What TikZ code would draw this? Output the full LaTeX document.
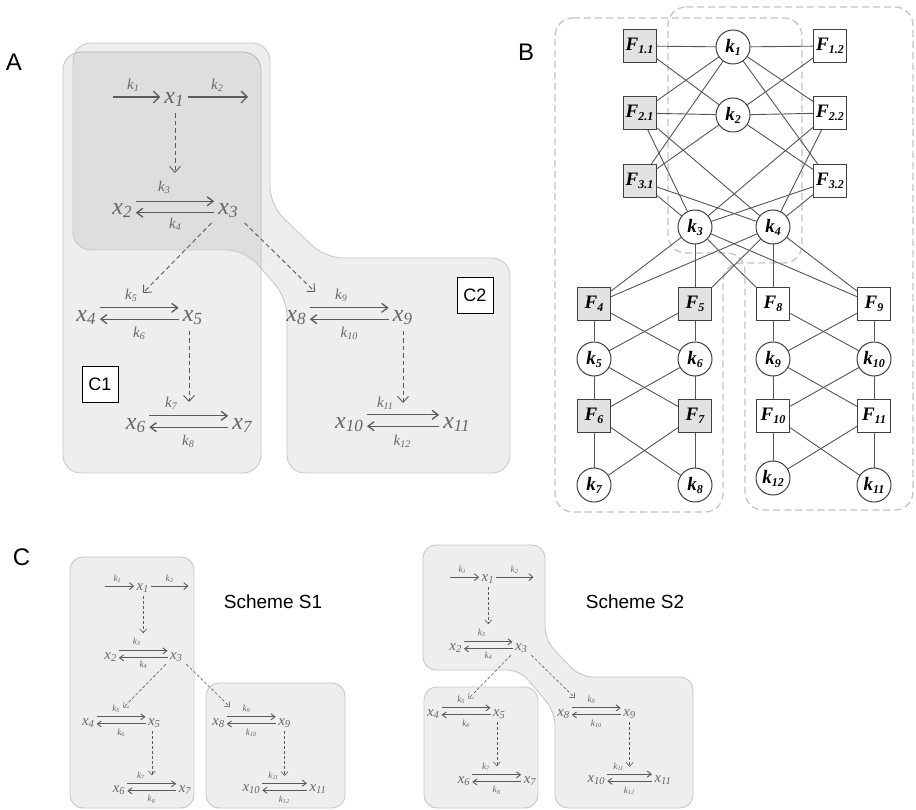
\documentclass[tikz,border=0pt]{standalone}
\usepackage{fontspec}
\setmainfont{Liberation Serif}
\newfontfamily\lsans{Liberation Sans}
\usetikzlibrary{arrows.meta}
\definecolor{tgray}{HTML}{666666}
\definecolor{agray}{HTML}{5A5A5A}
\definecolor{rborder}{HTML}{C8C8C8}
\definecolor{dashc}{HTML}{C4C4C4}
\definecolor{ngray}{HTML}{E2E2E2}
\definecolor{nbord}{HTML}{404040}
\definecolor{egray}{HTML}{555555}

\newcommand\xv[1]{x\raisebox{-3pt}{\fontsize{17}{17}\selectfont #1}}
\newcommand\kv[1]{k\raisebox{-2pt}{\fontsize{10}{10}\selectfont #1}}
\newcommand\Fv[1]{F\raisebox{-3pt}{\fontsize{12}{12}\selectfont #1}}
\newcommand\Kv[1]{k\raisebox{-3pt}{\fontsize{12}{12}\selectfont #1}}

\tikzset{
 xn/.style={anchor=base, inner xsep=4pt, inner ysep=2pt, text height=11.5pt, text depth=3pt, text=tgray, font=\fontsize{24}{24}\selectfont\itshape},
 kn/.style={inner sep=0pt, text=tgray, font=\fontsize{15}{15}\selectfont\itshape},
 rx/.style={draw=agray, line width=1.3pt, -{Straight Barb[length=6pt,width=12pt]}},
 rxd/.style={draw=agray, line width=1.3pt, -{Straight Barb[length=6pt,width=9pt]}},
 dx/.style={draw=agray, line width=0.9pt, dash pattern=on 4.5pt off 3pt, -{Straight Barb[length=6pt,width=11pt]}, shorten <=4pt},
 region/.style={fill=black, fill opacity=0.065, draw=rborder, line width=0.9pt, rounded corners=18pt},
 sregion/.style={region, rounded corners=13pt},
 lab/.style={draw=black, line width=0.9pt, fill=white, minimum size=36pt, inner sep=0pt, font=\lsans\fontsize{18}{18}\selectfont},
 plab/.style={inner sep=0pt, font=\lsans\fontsize{24}{24}\selectfont},
 stitle/.style={inner sep=0pt, font=\lsans\fontsize{19}{19}\selectfont},
 fb/.style={draw=nbord, line width=1pt, fill=white, minimum size=33pt, inner sep=0pt, font=\fontsize{19}{19}\selectfont\bfseries\itshape},
 fbg/.style={fb, fill=ngray},
 kb/.style={circle, draw=nbord, line width=1pt, fill=white, minimum size=34pt, inner sep=0pt, font=\fontsize{19}{19}\selectfont\bfseries\itshape},
 be/.style={draw=egray, line width=0.9pt},
 dbox/.style={draw=dashc, line width=1.3pt, dash pattern=on 7pt off 4pt, rounded corners=18pt},
 small/.style={
   rx/.style={draw=agray, line width=0.9pt, -{Straight Barb[length=4pt,width=7pt]}},
   rxd/.style={draw=agray, line width=0.9pt, -{Straight Barb[length=4pt,width=6pt]}},
   dx/.style={draw=agray, line width=0.6pt, dash pattern=on 3pt off 2pt, -{Straight Barb[length=4pt,width=7pt]}, shorten <=2.5pt}}
}

\newcommand\rxscheme{%
 \node[xn] (x1) at (174,104) {\xv{1}};
 \node[xn] (x2) at (122,215) {\xv{2}};
 \node[xn] (x3) at (228,215) {\xv{3}};
 \node[xn] (x4) at (86,321.5) {\xv{4}};
 \node[xn] (x5) at (192.5,321.5) {\xv{5}};
 \node[xn] (x6) at (135.5,429.5) {\xv{6}};
 \node[xn] (x7) at (242,429.5) {\xv{7}};
 \node[xn] (x8) at (296,321.5) {\xv{8}};
 \node[xn] (x9) at (402.5,321.5) {\xv{9}};
 \node[xn] (x10) at (349,428.5) {\xv{10}};
 \node[xn] (x11) at (456.5,428.5) {\xv{11}};
 \node[kn] (k1) at (133,85) {\kv{1}};
 \node[kn] (k2) at (217,85) {\kv{2}};
 \node[kn] (k3) at (164,187) {\kv{3}};
 \node[kn] (k4) at (175,224) {\kv{4}};
 \node[kn] (k5) at (131,295) {\kv{5}};
 \node[kn] (k6) at (139,333) {\kv{6}};
 \node[kn] (k7) at (171,403) {\kv{7}};
 \node[kn] (k8) at (188,441) {\kv{8}};
 \node[kn] (k9) at (341,295) {\kv{9}};
 \node[kn] (k10) at (349,333) {\kv{10}};
 \node[kn] (k11) at (385,403) {\kv{11}};
 \node[kn] (k12) at (402,441) {\kv{12}};
 \coordinate (k1s) at (113,97);
 \coordinate (k2e) at (248,97);
 \draw[rx] (k1s) -- (k1s -| x1.west);
 \draw[rx] (k2e -| x1.east) -- (k2e);
 \draw[rxd] (x2.north east) -- (x3.north west);
 \draw[rxd] (x3.mid west) -- (x2.mid east);
 \draw[rxd] (x4.north east) -- (x5.north west);
 \draw[rxd] (x5.mid west) -- (x4.mid east);
 \draw[rxd] (x6.north east) -- (x7.north west);
 \draw[rxd] (x7.mid west) -- (x6.mid east);
 \draw[rxd] (x8.north east) -- (x9.north west);
 \draw[rxd] (x9.mid west) -- (x8.mid east);
 \draw[rxd] (x10.north east) -- (x11.north west);
 \draw[rxd] (x11.mid west) -- (x10.mid east);
 \coordinate (d1) at (175,173);
 \coordinate (d2) at (143,293);
 \coordinate (d3) at (315,292);
 \coordinate (d4) at (189,402);
 \coordinate (d5) at (403,403);
 \draw[dx] (x1.south -| d1) -- (d1);
 \draw[dx] (x3.south west) -- (d2);
 \draw[dx] (x3.south east) -- (d3);
 \draw[dx] (x5.south -| d4) -- (d4);
 \draw[dx] (x9.south -| d5) -- (d5);
}

\begin{document}
\begin{tikzpicture}[x=1pt,y=-1pt]
\useasboundingbox[fill=white] (0,0) rectangle (916,810);

% ---------------- Panel A ----------------
\node[plab] (pA) at (14,62) {A};
\draw[region] (63,52) rectangle (261,473);
\draw[region] (73,43) -- (270,43) -- (270,205) -- (325,258) -- (510,258) -- (510,473) -- (287,473) -- (287,298) -- (245,250) -- (73,250) -- cycle;
\begin{scope}[name prefix=a-]
 \rxscheme
\end{scope}
\node[lab] (c1) at (100,384) {C1};
\node[lab] (c2) at (475,295) {C2};

% ---------------- Panel B ----------------
\node[plab] (pB) at (526,52) {B};
\draw[dbox] (555,18) -- (802,18) -- (802,263) -- (723,263) -- (723,512) -- (555,512) -- cycle;
\draw[dbox] (668,7) -- (913,7) -- (913,510) -- (745,510) -- (745,253) -- (668,253) -- cycle;

\node[fbg] (F11) at (639.5,46) {\Fv{1.1}};
\node[kb]  (K1)  at (733,47) {\Kv{1}};
\node[fb]  (F12) at (830,46) {\Fv{1.2}};
\node[fbg] (F21) at (639.5,113) {\Fv{2.1}};
\node[kb]  (K2)  at (733,115) {\Kv{2}};
\node[fb]  (F22) at (830,113) {\Fv{2.2}};
\node[fbg] (F31) at (639.5,181) {\Fv{3.1}};
\node[fb]  (F32) at (830,181) {\Fv{3.2}};
\node[kb]  (K3)  at (695,227) {\Kv{3}};
\node[kb]  (K4)  at (773,227) {\Kv{4}};
\node[fbg] (F4) at (594,304) {\Fv{4}};
\node[fbg] (F5) at (695,304) {\Fv{5}};
\node[fb]  (F8) at (773,304) {\Fv{8}};
\node[fb]  (F9) at (874,304) {\Fv{9}};
\node[kb]  (K5) at (594,359) {\Kv{5}};
\node[kb]  (K6) at (695,359) {\Kv{6}};
\node[kb]  (K9) at (773,359) {\Kv{9}};
\node[kb]  (K10) at (874,359) {\Kv{10}};
\node[fbg] (F6) at (594,416) {\Fv{6}};
\node[fbg] (F7) at (695,416) {\Fv{7}};
\node[fb]  (F10) at (773,416) {\Fv{10}};
\node[fb]  (F11b) at (874,416) {\Fv{11}};
\node[kb]  (K7) at (594,485) {\Kv{7}};
\node[kb]  (K8) at (695,485) {\Kv{8}};
\node[kb]  (K12) at (773,478) {\Kv{12}};
\node[kb]  (K11) at (874,485) {\Kv{11}};

\foreach \a/\b in {F11/K1, K1/F12, F11/K2, F12/K2, F21/K1, F22/K1, F31/K1, F32/K1,
  F21/K2, F22/K2, F31/K2, F32/K2, F21/K3, F21/K4, F22/K3, F22/K4, F31/K3, F31/K4, F32/K3, F32/K4,
  K3/F4, K3/F5, K3/F8, K3/F9, K4/F4, K4/F5, K4/F8, K4/F9,
  F4/K5, F4/K6, F5/K5, F5/K6, K5/F6, K5/F7, K6/F6, K6/F7, F6/K7, F6/K8, F7/K7, F7/K8,
  F8/K9, F8/K10, F9/K9, F9/K10, K9/F10, K9/F11b, K10/F10, K10/F11b, F10/K12, F10/K11, F11b/K12, F11b/K11}
  \draw[be] (\a) -- (\b);

% ---------------- Panel C ----------------
\node[plab] (pC) at (21.5,557) {C};
\draw[sregion] (70,557) rectangle (194,808);
\draw[sregion] (206,683) rectangle (345,808);
\begin{scope}[shift={(34.7,526)}, scale=0.62, transform shape, name prefix=s1-, small]
 \rxscheme
\end{scope}
\node[stitle] (t1) at (273,602) {Scheme S1};

\draw[sregion] (423,545) -- (545,545) -- (545,640) -- (580,677) -- (693,677) -- (693,808) -- (555,808) -- (555,712) -- (520,670) -- (423,670) -- cycle;
\draw[sregion] (424,687) rectangle (538,808);
\begin{scope}[shift={(379.7,517)}, scale=0.62, transform shape, name prefix=s2-, small]
 \rxscheme
\end{scope}
\node[stitle] (t2) at (635,602) {Scheme S2};
\end{tikzpicture}
\end{document}
